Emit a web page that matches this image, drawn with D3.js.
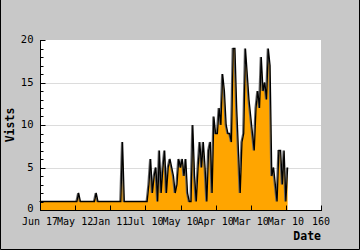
<!DOCTYPE html>
<html>
<head>
<meta charset="utf-8">
<script src="https://cdn.jsdelivr.net/npm/d3@7"></script>
<style>
  body { margin: 0; padding: 0; background: #c8c8c8; }
  svg text { font-family: "DejaVu Sans Mono", monospace; }
</style>
</head>
<body>
<div class="chart"></div>
<script>
// visits per point
let VISITS = [
  1,1,1,1,1,1,1,1,1,1, 1,1,1,1,1,1,1,1,1,1,
  1,1,2,1,1,1,1,1,1,1, 1,1,2,1,1,1,1,1,1,1,
  1,1,1,1,1,1,1,8,1,1, 1,1,1,1,1,1,1,1,1,1,
  1,1,3,6,2,4,5,1,7,2, 5,7,2,5,6,5,4,2,3,6,
  5,6,4,6,2,1,1,10,4,1, 5,8,5,8,5,1,7,8,2,11,
  9,9,12,10,16,14,10,9,9,8, 19,19,12,7,2,8,9,19,16,13,
  11,9,7,12,14,12,18,14,15,13, 19,17,4,5,3,1,7,7,3,7,
  1,5
];
let X_TICKS = [0, 20, 40, 60, 80, 100, 120, 140, 160];
let X_TICK_LABELS = ["Jun 17", "May 12", "Jan 11", "Jul 10", "May 10", "Apr 10", "Mar 10", "Mar 10", "160"];
let Y_TICKS = [0, 5, 10, 15, 20];
let Y_GRID = [5, 10, 15];

let FRAME_WIDTH = 360;
let FRAME_HEIGHT = 250;
let MARGINS = {left: 40, right: 39, top: 40, bottom: 40};

let FRAME = d3.select(".chart")
              .append("svg")
              .attr("width", FRAME_WIDTH)
              .attr("height", FRAME_HEIGHT);

// outer background + frame edges
FRAME.append("rect")
     .attr("width", FRAME_WIDTH).attr("height", FRAME_HEIGHT)
     .attr("fill", "#c8c8c8");
FRAME.append("path")
     .attr("d", "M0.5,0 V249.5 H359.5 V0")
     .attr("fill", "none").attr("stroke", "#000");

let X_SCALE = d3.scaleLinear()
                .domain([0, 160])
                .range([MARGINS.left, FRAME_WIDTH - MARGINS.right]);
let Y_SCALE = d3.scaleLinear()
                .domain([0, 20])
                .range([FRAME_HEIGHT - MARGINS.bottom, MARGINS.top]);

// plot area
FRAME.append("rect")
     .attr("x", X_SCALE(0)).attr("y", Y_SCALE(20))
     .attr("width", X_SCALE(160) - X_SCALE(0))
     .attr("height", Y_SCALE(0) - Y_SCALE(20))
     .attr("fill", "#fff");

// grid lines
FRAME.selectAll(".grid")
     .data(Y_GRID)
     .enter()
     .append("line")
       .attr("x1", X_SCALE(0)).attr("x2", X_SCALE(160))
       .attr("y1", (d) => Math.round(Y_SCALE(d)) + 0.5)
       .attr("y2", (d) => Math.round(Y_SCALE(d)) + 0.5)
       .attr("stroke", "#dcdcdc");

// area + line
let area = d3.area()
             .x((d, i) => X_SCALE(i))
             .y0(Y_SCALE(0))
             .y1((d) => Y_SCALE(d));
let line = d3.line()
             .x((d, i) => X_SCALE(i))
             .y((d) => Y_SCALE(d));

FRAME.append("path")
     .datum(VISITS)
     .attr("d", area)
     .attr("fill", "orange");

// gray shadow then black line
FRAME.append("path")
     .datum(VISITS)
     .attr("d", line)
     .attr("transform", "translate(-1,0)")
     .attr("fill", "none")
     .attr("stroke", "#666")
     .attr("stroke-width", 1.2);
FRAME.append("path")
     .datum(VISITS)
     .attr("d", line)
     .attr("fill", "none")
     .attr("stroke", "#000")
     .attr("stroke-width", 1.3);

// y axis: ticks pointing inward, minor every 1
let yAxis = FRAME.append("g")
                 .attr("transform", "translate(" + (X_SCALE(0) + 0.5) + ",0)");
yAxis.append("line")
     .attr("y1", Y_SCALE(20)).attr("y2", Y_SCALE(0) + 0.5)
     .attr("stroke", "#000");
yAxis.selectAll(".minor")
     .data(d3.range(0, 21))
     .enter()
     .append("line")
       .attr("x1", 0)
       .attr("x2", (d) => d % 5 === 0 ? 5 : 3)
       .attr("y1", (d) => Math.round(Y_SCALE(d)) + 0.5)
       .attr("y2", (d) => Math.round(Y_SCALE(d)) + 0.5)
       .attr("stroke", "#000");
yAxis.selectAll("text")
     .data(Y_TICKS)
     .enter()
     .append("text")
       .attr("x", -7)
       .attr("y", (d) => Y_SCALE(d) - (d === 0 ? 1 : 0))
       .attr("dy", "0.32em")
       .attr("text-anchor", "end")
       .attr("font-size", "10.5px")
       .text((d) => d);

// x axis
let xAxis = FRAME.append("g")
                 .attr("transform", "translate(0," + (Y_SCALE(0) + 0.5) + ")");
xAxis.append("line")
     .attr("x1", X_SCALE(0)).attr("x2", X_SCALE(160) + 1)
     .attr("stroke", "#000");
xAxis.selectAll(".tick")
     .data(X_TICKS)
     .enter()
     .append("line")
       .attr("x1", (d) => Math.round(X_SCALE(d)) + 0.5)
       .attr("x2", (d) => Math.round(X_SCALE(d)) + 0.5)
       .attr("y1", 0).attr("y2", -5)
       .attr("stroke", "#000");
xAxis.selectAll("text")
     .data(X_TICKS)
     .enter()
     .append("text")
       .attr("x", (d) => X_SCALE(d))
       .attr("y", 14)
       .attr("text-anchor", "middle")
       .attr("font-size", "10px")
       .text((d, i) => X_TICK_LABELS[i]);

// axis titles
FRAME.append("text")
     .attr("transform", "translate(14," + ((Y_SCALE(0) + Y_SCALE(20)) / 2) + ") rotate(-90)")
     .attr("text-anchor", "middle")
     .attr("font-size", "11.5px")
     .attr("font-weight", "bold")
     .text("Vists");
FRAME.append("text")
     .attr("x", X_SCALE(160))
     .attr("y", 240)
     .attr("text-anchor", "end")
     .attr("font-size", "11.5px")
     .attr("font-weight", "bold")
     .text("Date");
</script>
</body>
</html>
